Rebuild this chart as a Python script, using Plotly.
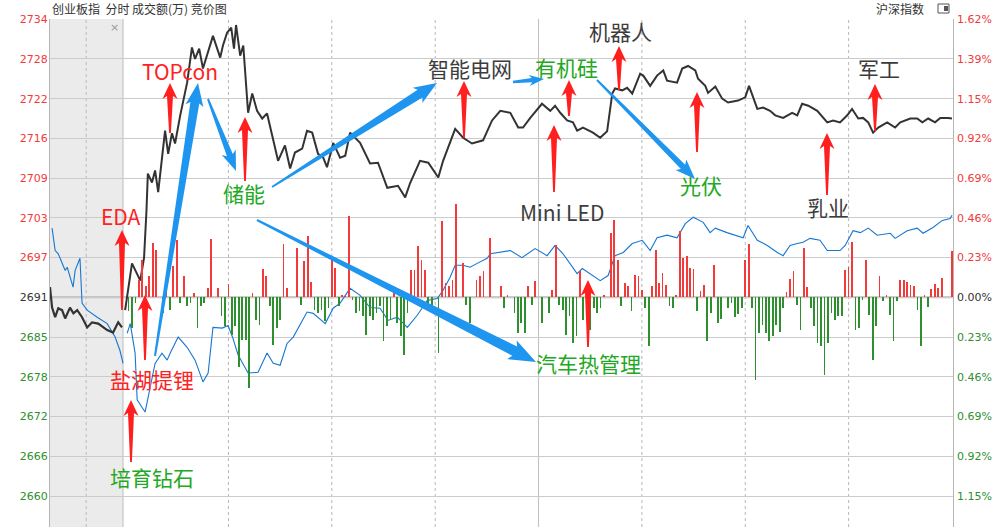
import plotly.graph_objects as go

# ---------------- data ----------------
BASE = 2691.1          # previous close (0.00 %)
STEP = 6.2             # price per grid step
PSTEP = 0.2314         # percent per grid step
AMT_STEP = 39.8        # amount units per grid step (bar axis)

tick_steps = [7, 6, 5, 4, 3, 2, 1, 0, -1, -2, -3, -4, -5]
left_ticks = ["2734", "2728", "2722", "2716", "2709", "2703", "2697", "2691",
              "2685", "2678", "2672", "2666", "2660"]
right_ticks = ["1.62%", "1.39%", "1.15%", "0.92%", "0.69%", "0.46%", "0.23%", "0.00%",
               "0.23%", "0.46%", "0.69%", "0.92%", "1.15%"]

# call auction (minutes before 9:30, compressed scale)
auc_min = [-21.8, -21.2, -20.3, -19.4, -18.3, -17.4, -16.0, -15.0, -13.9, -12.5,
           -11.0, -9.6, -7.8, -6.5, -5.2, -3.5, -2.0, -0.9]
auc_price = [2692.7, 2689.5, 2688.0, 2689.4, 2689.1, 2687.8, 2689.5, 2688.6, 2689.1, 2688.0,
             2686.4, 2687.2, 2687.0, 2686.5, 2686.0, 2685.6, 2687.2, 2686.4]
auc_blue_min = [-21.2, -20.3, -19.4, -18.3, -17.4, -16.8, -16.0, -15.1, -14.5, -13.6,
                -13.1, -12.5, -11.0, -8.1, -5.2, -2.9, -1.5, -0.6]
auc_blue = [2701.9, 2698.4, 2697.9, 2696.4, 2695.3, 2695.8, 2694.2, 2692.7, 2695.3, 2696.4,
            2697.2, 2690.2, 2689.1, 2688.0, 2687.0, 2684.9, 2682.8, 2680.8]

# continuous trading: minutes after 9:30 (0..240)
t_min = [0, 2.0, 4.4, 5.5, 6.2, 6.6, 7.8, 8.7, 9.6, 10.7, 11.6, 12.5, 13.6, 14.5, 16.0, 18.0,
         19.4, 20.3, 21.5, 22.6, 24.1, 25.5, 27.6, 28.4, 29.6, 30.8, 31.6, 32.2, 33.4, 34.3,
         35.7, 36.9, 38.3, 39.8, 41.2, 43.0, 44.4, 46.4, 47.9, 49.3, 51.4, 52.8, 54.3, 56.0,
         57.5, 58.6, 60.4, 62.4, 63.9, 65.3, 68.2, 71.1, 73.4, 76.1, 79.2, 81.3, 82.7, 85.6,
         88.0, 90.9, 92.3, 95.8, 98.1, 100.7, 103.9, 106.5, 108.9, 111.8, 114.1, 115.5, 117.6,
         121.0, 123.4, 124.8, 126.3, 128.3, 130.0, 131.2, 132.9, 135.8, 137.9, 139.9, 141.4,
         142.2, 144.3, 145.7, 147.2, 149.5, 150.4, 152.4, 154.4, 156.2, 157.3, 160.2, 161.7,
         163.4, 165.5, 166.3, 168.4, 169.2, 171.3, 173.3, 175.0, 177.9, 180.0, 181.1, 183.5,
         185.2, 187.2, 188.7, 191.0, 193.6, 195.1, 196.5, 198.3, 200.9, 202.6, 203.8, 205.5,
         207.5, 209.6, 211.0, 212.8, 214.2, 215.7, 217.1, 218.6, 221.2, 223.5, 225.0, 227.9,
         229.9, 231.4, 233.1, 235.1, 236.6, 238.9, 240.0]
t_price = [2689.1, 2696.4, 2693.7, 2697.3, 2704.6, 2710.4, 2709.0, 2710.9, 2707.5, 2713.2,
           2717.1, 2713.5, 2716.7, 2715.1, 2719.5, 2724.6, 2730.1, 2728.3, 2729.9, 2726.8,
           2729.3, 2731.9, 2728.5, 2730.4, 2732.4, 2733.2, 2729.9, 2733.6, 2728.8, 2730.4,
           2719.9, 2722.9, 2720.2, 2719.0, 2719.8, 2715.9, 2712.4, 2714.8, 2711.2, 2713.7,
           2714.3, 2717.1, 2716.8, 2713.5, 2712.9, 2711.4, 2715.2, 2712.9, 2713.2, 2716.8,
           2715.2, 2712.0, 2712.1, 2708.2, 2708.5, 2706.7, 2708.9, 2712.4, 2712.1, 2709.8,
           2712.4, 2717.4, 2716.0, 2715.1, 2715.6, 2718.7, 2720.2, 2719.9, 2717.6, 2717.6,
           2719.1, 2721.3, 2720.2, 2721.0, 2719.9, 2718.7, 2718.4, 2717.1, 2717.6, 2716.8,
           2716.0, 2717.0, 2722.9, 2723.7, 2723.4, 2723.8, 2722.9, 2726.0, 2725.7, 2724.1,
           2725.7, 2726.5, 2724.9, 2724.6, 2726.8, 2727.2, 2726.5, 2725.2, 2724.1, 2723.0,
           2724.0, 2722.1, 2721.5, 2721.8, 2722.3, 2724.1, 2720.5, 2720.7, 2720.2, 2719.5,
           2719.1, 2719.9, 2719.5, 2721.3, 2721.0, 2720.2, 2719.1, 2718.4, 2718.7, 2718.4,
           2719.5, 2720.5, 2719.0, 2719.1, 2718.4, 2716.8, 2717.6, 2718.4, 2717.6, 2718.4,
           2719.0, 2719.0, 2718.4, 2719.0, 2718.4, 2719.1, 2719.1, 2719.0]

b_min = [0.6, 1.5, 2.9, 3.5, 5.8, 7.3, 8.7, 10.7, 12.2, 13.1, 15.4, 18.0, 20.3, 22.6, 24.1,
         25.5, 28.2, 29.9, 31.3, 32.8, 35.7, 38.6, 41.2, 43.0, 45.0, 47.0, 48.8, 52.8, 54.6,
         58.1, 60.4, 62.4, 65.3, 68.2, 71.1, 74.0, 76.3, 79.0, 81.9, 84.8, 87.7, 90.6, 92.3,
         94.3, 95.8, 98.1, 100.1, 102.2, 105.1, 106.0, 108.9, 111.8, 115.2, 119.0, 122.5,
         124.8, 127.1, 131.2, 132.7, 135.0, 137.9, 140.2, 142.2, 144.6, 147.2, 150.1, 152.4,
         154.4, 157.3, 160.2, 162.6, 164.9, 167.8, 169.8, 171.3, 174.7, 179.4, 180.8, 183.5,
         186.4, 189.3, 191.0, 193.0, 195.1, 196.8, 198.8, 201.7, 203.8, 207.5, 209.0, 211.3,
         213.4, 215.7, 218.3, 222.1, 223.5, 227.0, 229.9, 231.6, 234.5, 237.2, 239.5, 240.0]
b_val = [2685.5, 2687.0, 2682.4, 2675.1, 2673.2, 2677.1, 2680.8, 2682.4, 2681.3, 2682.4,
         2684.9, 2683.3, 2681.3, 2677.9, 2679.3, 2686.4, 2686.3, 2686.7, 2684.7, 2682.1,
         2679.3, 2679.4, 2682.4, 2680.8, 2680.5, 2683.9, 2684.9, 2688.8, 2688.6, 2687.0,
         2689.4, 2690.2, 2692.5, 2691.4, 2689.5, 2689.4, 2687.5, 2688.0, 2686.4, 2688.3,
         2690.6, 2690.9, 2692.2, 2694.2, 2696.1, 2696.1, 2695.8, 2696.4, 2697.2, 2697.9,
         2698.1, 2698.4, 2697.3, 2698.7, 2697.6, 2699.2, 2697.9, 2694.8, 2695.6, 2694.8,
         2693.7, 2694.5, 2697.6, 2698.1, 2699.5, 2700.0, 2698.4, 2700.4, 2700.8, 2700.4,
         2702.6, 2703.6, 2702.8, 2701.2, 2701.9, 2701.2, 2700.4, 2702.3, 2700.0, 2699.2,
         2698.1, 2697.6, 2699.2, 2699.5, 2699.7, 2700.3, 2700.0, 2698.4, 2698.4, 2699.2,
         2701.5, 2701.2, 2701.9, 2700.8, 2701.1, 2700.3, 2701.5, 2701.9, 2701.1, 2702.0,
         2703.1, 2703.4, 2703.9]

# per-minute amount bars (relative units): up (red) and down (green)
up_min = [4, 5, 6, 7, 8, 9, 12, 14, 15, 17, 20, 24, 25, 27, 30, 37, 40, 41, 46, 47, 50, 52,
          53, 54, 60, 61, 63, 64, 65, 78, 83, 84, 85, 86, 87, 92, 93, 94, 95, 96, 98, 102,
          103, 104, 106, 109, 111, 117, 119, 124, 125, 132, 139, 141, 142, 143, 145, 146, 148,
          149, 150, 153, 154, 155, 156, 157, 160, 161, 162, 163, 164, 165, 167, 168, 171, 180,
          181, 192, 193, 194, 197, 198, 209, 210, 211, 215, 219, 221, 225, 226, 227, 228, 229,
          232, 234, 235, 236, 237, 240]
up_amt = [17, 37, 11, 21, 54, 47, 17, 31, 57, 21, 4, 9, 58, 9, 13, 4, 28, 21, 53, 9, 49, 36,
          61, 15, 37, 29, 2, 2, 81, 6, 27, 27, 51, 37, 27, 76, 14, 11, 17, 93, 34, 17,
          21, 26, 59, 11, 2, 11, 16, 7, 52, 26, 2, 64, 77, 37, 14, 11, 22,
          21, 7, 11, 47, 14, 24, 12, 2, 66, 39, 41, 29, 28, 6, 12, 32, 37,
          53, 5, 18, 26, 49, 10, 27, 30, 55, 37, 21, 2, 17, 17, 15, 12, 11,
          2, 8, 13, 9, 19, 46]
dn_min = [1, 2, 3, 11, 13, 16, 18, 19, 21, 22, 23, 28, 29, 31, 32, 33, 34, 35, 36, 38, 39, 42,
          43, 44, 45, 51, 55, 56, 57, 58, 59, 62, 66, 67, 68, 69, 70, 71, 72, 73, 74, 75, 76,
          77, 79, 80, 81, 82, 88, 89, 91, 99, 100, 110, 113, 114, 115, 116, 118, 121, 123, 126,
          127, 128, 129, 130, 131, 133, 135, 136, 137, 138, 144, 147, 151, 152, 158, 159, 166,
          169, 170, 172, 173, 175, 176, 177, 178, 179, 182, 183, 184, 185, 186, 187, 188, 189,
          190, 191, 195, 196, 199, 200, 201, 202, 203, 204, 205, 206, 207, 208, 212, 213, 214,
          216, 217, 218, 220, 222, 223, 224, 230, 231, 233]
dn_amt = [14, 31, 6, 16, 13, 6, 9, 6, 31, 9, 6, 19, 29, 38, 29, 70, 43, 43, 91, 23, 28, 9,
          48, 31, 23, 8, 13, 16, 13, 24, 11, 9, 3, 16, 14, 19, 38, 19, 23, 16, 9, 44, 29,
          23, 26, 39, 58, 16, 9, 8, 56, 8, 26, 11, 16, 36, 26, 36, 8, 26, 16, 8,
          13, 38, 19, 46, 39, 23, 33, 11, 16, 11, 9, 14, 11, 49, 9, 11, 14,
          44, 16, 26, 22, 11, 6, 20, 17, 11, 11, 83, 36, 28, 36, 44, 39, 28,
          35, 11, 8, 33, 11, 29, 46, 49, 78, 46, 16, 23, 19, 19, 33, 31, 3,
          18, 63, 29, 4, 18, 44, 4, 13, 49, 10]

# ---------------- styling constants ----------------
RED = "#f23a3a"
GREEN = "#2e8f2e"
DARK = "#333333"
GRID = "#cbcbcb"
ARROW_RED = "#ff1f1f"
ARROW_BLUE = "#1e96f0"
TXT_RED = "#ff2222"
TXT_GREEN = "#22a822"
TXT_GRAY = "#3c3c3c"
CJK = "Noto Sans CJK SC"
NUM = "DejaVu Sans"

W, H = 1004, 527
PL, PR, PT, PB = 50, 51, 19, 0
PW, PH = W - PL - PR, H - PT - PB
X0, X1 = -21.8, 240.3
TOPK, BOTK = 7.005, -5.78
BAR_W = 0.22


def tick_color(k):
    return RED if k > 0 else (DARK if k == 0 else GREEN)


fig = go.Figure()

# bars (secondary hidden axis)
fig.add_trace(go.Bar(x=up_min, y=up_amt, width=BAR_W, marker=dict(color=RED, line_width=0),
                     yaxis="y2", hoverinfo="skip"))
fig.add_trace(go.Bar(x=dn_min, y=[-v for v in dn_amt], width=BAR_W,
                     marker=dict(color=GREEN, line_width=0), yaxis="y2", hoverinfo="skip"))

# blue line (auction + trading)
fig.add_trace(go.Scatter(x=auc_blue_min, y=auc_blue, mode="lines",
                         line=dict(color="#1677d2", width=1.1), hoverinfo="skip"))
fig.add_trace(go.Scatter(x=b_min, y=b_val, mode="lines",
                         line=dict(color="#1677d2", width=1.1), hoverinfo="skip"))
# index line
fig.add_trace(go.Scatter(x=auc_min, y=auc_price, mode="lines",
                         line=dict(color=DARK, width=2.2), hoverinfo="skip"))
fig.add_trace(go.Scatter(x=t_min, y=t_price, mode="lines",
                         line=dict(color=DARK, width=2), hoverinfo="skip"))
# dummy trace for right axis
fig.add_trace(go.Scatter(x=[X0], y=[0], yaxis="y3", mode="markers",
                         marker=dict(opacity=0), hoverinfo="skip", showlegend=False))

shapes = []
# auction background
shapes.append(dict(type="rect", xref="x", yref="paper", x0=X0, x1=-0.6, y0=0, y1=1,
                   fillcolor="#ebebeb", line_width=0, layer="below"))
# vertical grid
for xv, solid in [(-11.3, False), (-0.6, True), (30, False), (60, False), (90, False),
                  (120, True), (150, False), (180, False), (210, False)]:
    shapes.append(dict(type="line", xref="x", yref="paper", x0=xv, x1=xv, y0=0, y1=1,
                       line=dict(color="#bdbdbd" if solid else "#b8b8b8", width=1,
                                 dash="solid" if solid else "dot"), layer="below"))
# baseline
shapes.append(dict(type="line", xref="paper", yref="y", x0=0, x1=1, y0=BASE, y1=BASE,
                   line=dict(color="#b9b9b9", width=2), layer="below"))


def pix_shape(points, color):
    path = "M " + " L ".join(f"{x - PL:.1f},{-(y - PT):.1f}" for x, y in points) + " Z"
    return dict(type="path", xref="paper", yref="paper", xsizemode="pixel",
                ysizemode="pixel", xanchor=0, yanchor=1, path=path,
                fillcolor=color, line=dict(width=0), layer="above")


def red_arrow(tx, ty, by):
    pts = [(tx, ty), (tx + 7.5, ty + 16), (tx + 3, ty + 13), (tx + 0.9, by),
           (tx - 0.9, by), (tx - 3, ty + 13), (tx - 7.5, ty + 16)]
    return pix_shape(pts, ARROW_RED)


def blue_arrow(tail, tip, w0, w1, hw, hl):
    (ax, ay), (bx, by) = tail, tip
    dx, dy = bx - ax, by - ay
    L = (dx * dx + dy * dy) ** 0.5
    ux, uy = dx / L, dy / L
    nx, ny = -uy, ux
    cx, cy = bx - ux * hl, by - uy * hl        # head base
    kx, ky = cx - ux * 3, cy - uy * 3          # barb points (swept back)
    pts = [(ax + nx * w0, ay + ny * w0), (cx + nx * w1, cy + ny * w1),
           (kx + nx * hw, ky + ny * hw), (bx, by), (kx - nx * hw, ky - ny * hw),
           (cx - nx * w1, cy - ny * w1), (ax - nx * w0, ay - ny * w0)]
    return pix_shape(pts, ARROW_BLUE)


# red arrows (tip x, tip y, bottom y) in screen px
for tx, ty, by in [(170, 83, 133), (245, 117, 181), (122, 230, 310), (145, 295, 360),
                   (131, 400, 462), (464, 81, 138), (569, 80, 116), (554, 125, 192),
                   (619, 46, 90), (697, 92, 152), (875, 84, 131), (827, 133, 195),
                   (588, 280, 347)]:
    shapes.append(red_arrow(tx, ty, by))

# blue arrows
shapes.append(blue_arrow((155, 356), (198, 83), 1.0, 4.5, 9, 20))
shapes.append(blue_arrow((208, 99), (236, 171), 1.0, 3.2, 7.5, 17))
shapes.append(blue_arrow((272, 187), (437, 83), 1.0, 4.6, 9, 20))
shapes.append(blue_arrow((513, 82), (544, 79), 1.2, 2.2, 5.5, 12))
shapes.append(blue_arrow((597, 80), (695, 179), 1.0, 3.0, 7.5, 17))
shapes.append(blue_arrow((257, 220), (536, 362), 1.0, 5.2, 10.5, 24))

# icon near 沪深指数
shapes.append(dict(type="rect", xref="paper", yref="paper", xsizemode="pixel",
                   ysizemode="pixel", xanchor=0, yanchor=1,
                   x0=938 - PL, x1=949 - PL, y0=-(4 - PT), y1=-(13 - PT),
                   line=dict(color="#555555", width=1), fillcolor="white"))
shapes.append(dict(type="rect", xref="paper", yref="paper", xsizemode="pixel",
                   ysizemode="pixel", xanchor=0, yanchor=1,
                   x0=944 - PL, x1=948 - PL, y0=-(6 - PT), y1=-(11 - PT),
                   line=dict(width=0), fillcolor="#555555"))


def px(x, y):
    return (x - PL) / PW, 1 - (y - PT) / PH


annos = []
labels = [("TOPcon", 180, 71, TXT_RED), ("EDA", 121, 216, TXT_RED),
          ("盐湖提锂", 152, 379, TXT_RED), ("培育钻石", 152, 477, TXT_GREEN),
          ("储能", 244, 193, TXT_GREEN), ("智能电网", 470, 68, TXT_GRAY),
          ("有机硅", 566, 67, TXT_GREEN), ("机器人", 620, 31, TXT_GRAY),
          ("Mini LED", 562, 212, TXT_GRAY), ("汽车热管理", 588, 363, TXT_GREEN),
          ("光伏", 701, 185, TXT_GREEN), ("乳业", 828, 207, TXT_GRAY),
          ("军工", 879, 68, TXT_GRAY)]
for txt, x, y, c in labels:
    ax_, ay_ = px(x, y)
    annos.append(dict(text=txt, x=ax_, y=ay_, xref="paper", yref="paper",
                      xanchor="center", yanchor="middle", showarrow=False,
                      font=dict(family=CJK, size=21, color=c)))

hx, hy = px(50, 8)
annos.append(dict(text="创业板指&nbsp;&nbsp;分时 成交额(万) 竞价图", x=hx, y=hy, xref="paper",
                  yref="paper", xanchor="left", yanchor="middle", showarrow=False,
                  font=dict(family=CJK, size=12, color=DARK)))
rx, ry = px(926, 8)
annos.append(dict(text="沪深指数", x=rx, y=ry, xref="paper", yref="paper",
                  xanchor="right", yanchor="middle", showarrow=False,
                  font=dict(family=CJK, size=12, color=DARK)))
cx_, cy_ = px(114, 28)
annos.append(dict(text="×", x=cx_, y=cy_, xref="paper", yref="paper",
                  xanchor="center", yanchor="middle", showarrow=False,
                  font=dict(family=NUM, size=11, color="#9a9a9a")))

left_vals = [BASE + k * STEP for k in tick_steps]
left_text = [f"<span style='color:{tick_color(k)}'>{t}</span>"
             for k, t in zip(tick_steps, left_ticks)]
right_vals = [k * PSTEP for k in tick_steps]
right_text = [f"<span style='color:{tick_color(k)}'>{t}</span>"
              for k, t in zip(tick_steps, right_ticks)]

fig.update_layout(
    width=W, height=H, margin=dict(l=PL, r=PR, t=PT, b=PB, autoexpand=False),
    paper_bgcolor="white", plot_bgcolor="white", showlegend=False, bargap=0,
    barmode="overlay",
    xaxis=dict(range=[X0, X1], showgrid=False, zeroline=False, showticklabels=False,
               ticks="", fixedrange=True),
    yaxis=dict(range=[BASE + BOTK * STEP, BASE + TOPK * STEP], tickvals=left_vals,
               ticktext=left_text, showgrid=True, gridcolor=GRID, gridwidth=1,
               zeroline=False, ticks="", showline=True, linecolor="#b5b5b5", linewidth=1,
               mirror=True, tickfont=dict(family=NUM, size=11), ticklabelstandoff=-1),
    yaxis2=dict(range=[BOTK * AMT_STEP, TOPK * AMT_STEP], overlaying="y", visible=False),
    yaxis3=dict(range=[BOTK * PSTEP, TOPK * PSTEP], overlaying="y", side="right",
                tickvals=right_vals, ticktext=right_text, showgrid=False, zeroline=False,
                ticks="", tickfont=dict(family=NUM, size=11), ticklabelstandoff=3),
    shapes=shapes, annotations=annos,
)

fig.write_html("out.html", config={"displayModeBar": False},
               post_script="document.body.style.margin='0';")
